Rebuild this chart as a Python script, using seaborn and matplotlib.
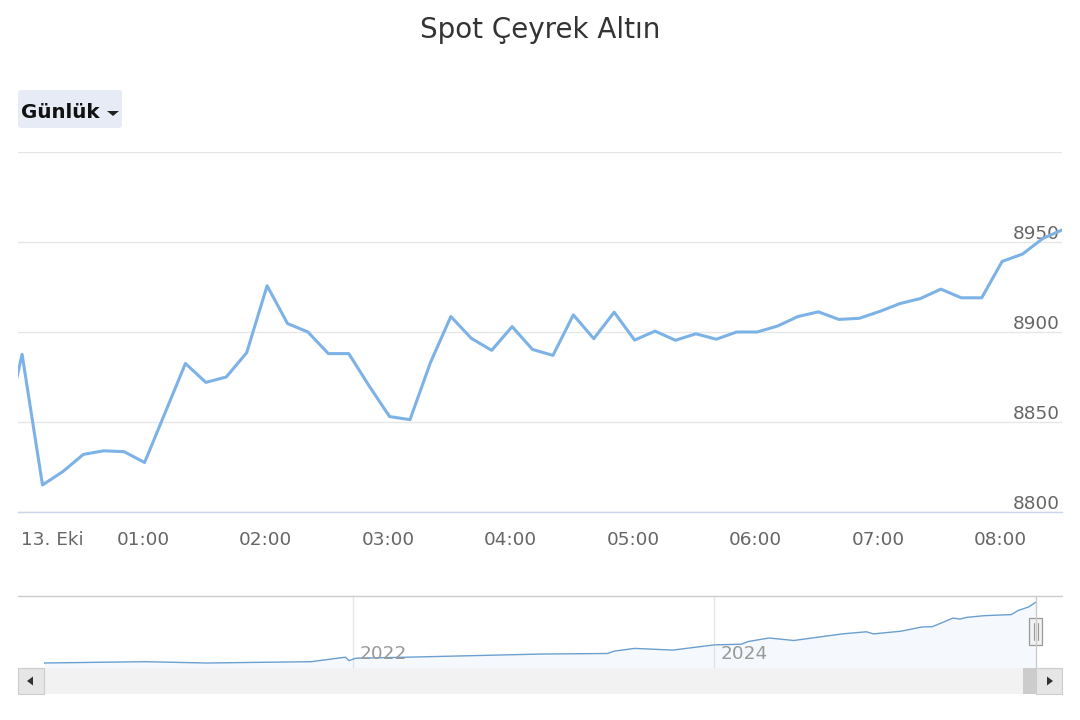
"""
Spot Çeyrek Altın - günlük grafik ve alt gezgin (navigator) şeridi
"""
import matplotlib
matplotlib.use('Agg')
import matplotlib.pyplot as plt
import matplotlib.patches as mpatches
import matplotlib.dates as mdates
from matplotlib.transforms import offset_copy
import seaborn as sns
import pandas as pd

sns.set_style('white')
plt.rcParams['font.family'] = ['DejaVu Sans']

# ana grafik: 10 dakikalık fiyatlar (12 Eki 23:50 -> 13 Eki 08:30)
prices = [8837, 8887.6, 8815, 8822.5, 8832, 8834, 8833.5, 8827.5, 8855, 8882.5,
          8872, 8875, 8888.5, 8925.7, 8904.7, 8900, 8888, 8888, 8870, 8853,
          8851.3, 8883, 8908.6, 8896.5, 8889.8, 8903, 8890.3, 8887, 8909.5, 8896.3,
          8911, 8895.5, 8900.5, 8895.4, 8899, 8896, 8900, 8900, 8903.3, 8908.6,
          8911.2, 8907, 8907.6, 8911.4, 8915.8, 8918.6, 8923.8, 8919, 8919, 8939.2,
          8943.3, 8952, 8957]
times = pd.date_range('2025-10-12 23:50:40', periods=len(prices), freq='10min')

tick_times = pd.date_range('2025-10-13 00:00', '2025-10-13 08:00', freq='1h')
tick_labels = ['13. Eki', '01:00', '02:00', '03:00', '04:00', '05:00', '06:00', '07:00', '08:00']
y_ticks = [8800, 8850, 8900, 8950, 9000]
y_labels = ['8800', '8850', '8900', '8950', '']

# navigator: uzun dönem seri
nav_dates = pd.to_datetime([
    '2020-04-15', '2020-11-05', '2021-03-10', '2021-10-07', '2021-12-16', '2021-12-23',
    '2022-01-06', '2022-04-20', '2023-01-17', '2023-05-30', '2023-06-13', '2023-07-24',
    '2023-10-09', '2024-01-01', '2024-02-25', '2024-03-10', '2024-04-21', '2024-06-10',
    '2024-09-16', '2024-11-04', '2024-11-18', '2025-01-13', '2025-02-24', '2025-03-17',
    '2025-04-07', '2025-04-28', '2025-05-12', '2025-05-26', '2025-06-30', '2025-08-24',
    '2025-09-07', '2025-09-28', '2025-10-13'])
nav_prices = [680, 857, 680, 857, 1469, 1006, 1333, 1469, 1900, 1972, 2298, 2666,
              2434, 3142, 3237, 3604, 4080, 3740, 4638, 4923, 4638, 5005, 5576, 5617,
              6188, 6786, 6650, 6882, 7113, 7262, 7820, 8296, 8957]
nav_ticks = pd.to_datetime(['2022-01-01', '2024-01-01'])
nav_labels = ['2022', '2024']

W, H = 1080, 720
fig = plt.figure(figsize=(W / 100, H / 100), dpi=100)
fig.patch.set_facecolor('white')

# --- ana grafik
ax = fig.add_axes([18 / W, 1 - 512 / H, 1044 / W, 360 / H])
sns.lineplot(x=times, y=prices, ax=ax, color='#7cb2e6', linewidth=2.2,
             solid_joinstyle='round', solid_capstyle='round')
ax.set_xlim(pd.Timestamp('2025-10-12 23:58:40'), pd.Timestamp('2025-10-13 08:30:00'))
ax.set_ylim(8800, 9000)
ax.set_xlabel('')
ax.set_ylabel('')
ax.set_yticks(y_ticks)
ax.yaxis.grid(True, color='#e6e6e6', linewidth=1)
ax.set_axisbelow(True)
ax.tick_params(axis='y', length=0, labelleft=False)
ax.set_xticks(tick_times)
ax.set_xticklabels(tick_labels)
ax.tick_params(axis='x', length=11, width=0.8, color='#ccd6eb', labelcolor='#666666',
               labelsize=13.3, pad=2.5)
ax.get_xticklabels()[0].set_ha('left')
for s in ['top', 'right', 'left']:
    ax.spines[s].set_visible(False)
ax.spines['bottom'].set_color('#ccd6eb')
ax.spines['bottom'].set_linewidth(1)

ytr = offset_copy(ax.get_yaxis_transform(), fig=fig, y=3, units='dots')
for v, lab in zip(y_ticks, y_labels):
    ax.text(0.998, v, lab, transform=ytr, ha='right', va='baseline',
            fontsize=13.3, color='#666666', zorder=1)

fig.text(0.5, 1 - 30 / H, 'Spot Çeyrek Altın', ha='center', va='center',
         fontsize=20, color='#333333')

# --- navigator
nav = fig.add_axes([44 / W, 1 - 668 / H, 992 / W, 72 / H])
nav.fill_between(nav_dates, nav_prices, 0, color='#7cb5ec', alpha=0.07, linewidth=0)
sns.lineplot(x=nav_dates, y=nav_prices, ax=nav, color='#6a9fcf', linewidth=1)
nav.set_xlim(nav_dates[0], nav_dates[-1])
nav.set_ylim(0, 9790)
nav.set_xlabel('')
nav.set_ylabel('')
nav.set_xticks(nav_ticks)
nav.set_yticks([])
nav.xaxis.grid(True, color='#e6e6e6', linewidth=1)
nav.set_axisbelow(True)
nav.tick_params(axis='x', length=0, labelbottom=False)
for s in nav.spines.values():
    s.set_visible(False)
ntr = offset_copy(nav.get_xaxis_transform(), fig=fig, x=6, units='dots')
for t, lab in zip(nav_ticks, nav_labels):
    nav.text(mdates.date2num(t), (668 - 654) / 72, lab, transform=ntr, ha='left',
             va='center', fontsize=13.3, color='#999999')

# --- arayüz parçaları (buton, kaydırma çubuğu)
ov = fig.add_axes([0, 0, 1, 1], zorder=10)
ov.set_xlim(0, W)
ov.set_ylim(H, 0)
ov.axis('off')
ov.patch.set_alpha(0)

ov.add_patch(mpatches.FancyBboxPatch((18, 90), 104, 38, boxstyle='round,pad=0,rounding_size=3',
                                     fc='#e6ebf5', ec='none'))
ov.text(21.5, 118, 'Günlük', ha='left', va='baseline', fontsize=14.3, fontweight='bold',
        color='#111111')
ov.add_patch(mpatches.Polygon([(107, 111), (119, 111), (113, 116)], closed=True,
                              fc='#222222', ec='none'))

ov.plot([18, 1062], [596, 596], color='#cccccc', linewidth=1)
ov.plot([1036, 1036], [596, 668], color='#cccccc', linewidth=1)

ov.add_patch(mpatches.Rectangle((18, 668), 1044, 26, fc='#f2f2f2', ec='none'))
ov.add_patch(mpatches.Rectangle((1023, 668), 13, 26, fc='#cccccc', ec='none'))
ov.add_patch(mpatches.Rectangle((18, 668), 26, 26, fc='#e6e6e6', ec='#cccccc', linewidth=0.8))
ov.add_patch(mpatches.Rectangle((1036, 668), 26, 26, fc='#e6e6e6', ec='#cccccc', linewidth=0.8))
ov.add_patch(mpatches.Polygon([(27, 681), (33, 676.5), (33, 685.5)], closed=True,
                              fc='#333333', ec='none'))
ov.add_patch(mpatches.Polygon([(1053, 681), (1047, 676.5), (1047, 685.5)], closed=True,
                              fc='#333333', ec='none'))

ov.add_patch(mpatches.Rectangle((1029, 618), 13, 27, fc='#f2f2f2', ec='#999999', linewidth=0.9))
ov.plot([1033.5, 1033.5], [623, 640], color='#999999', linewidth=0.8)
ov.plot([1037.5, 1037.5], [623, 640], color='#999999', linewidth=0.8)

fig.savefig('out.png', dpi=100)
plt.close(fig)
